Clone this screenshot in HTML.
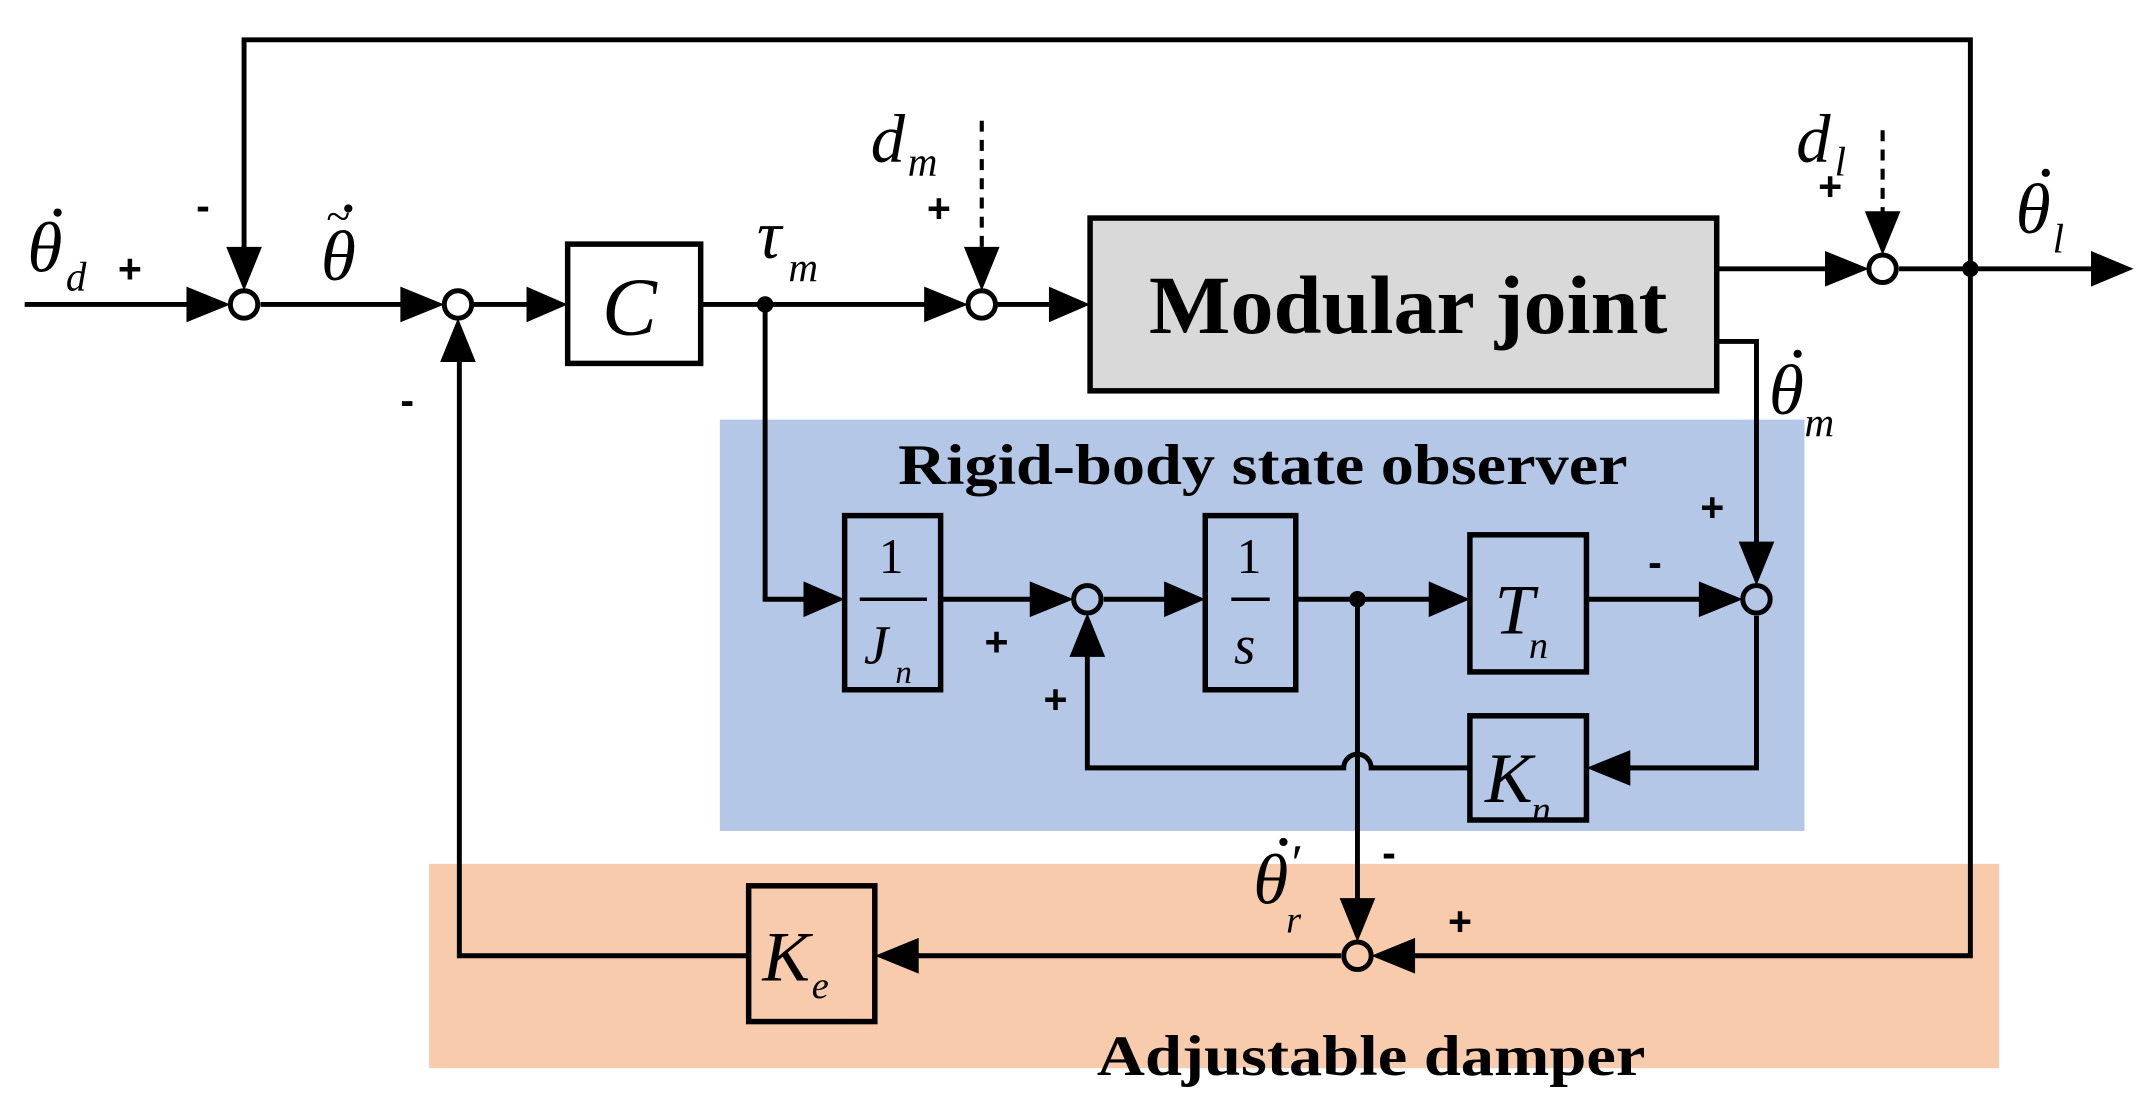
<!DOCTYPE html>
<html><head><meta charset="utf-8"><style>
html,body{margin:0;padding:0;background:#fff;}
svg{display:block;}
.m{font-family:"Liberation Serif",serif;font-style:italic;}
.b{font-family:"Liberation Serif",serif;font-weight:bold;}
.s{font-family:"Liberation Sans",sans-serif;font-weight:bold;}
</style></head><body>
<svg width="2150" height="1108" viewBox="0 0 1568 808" xmlns="http://www.w3.org/2000/svg">
<rect x="525" y="306" width="791" height="300" fill="#b4c7e7"/>
<rect x="313" y="630" width="1145" height="149" fill="#f8cbad"/>
<g stroke="#000" stroke-width="3.6" fill="none">
<polyline points="178,190 178,29 1437,29 1437,697 1020,697"/>
<line x1="18" y1="222" x2="150" y2="222"/>
<line x1="190" y1="222" x2="305" y2="222"/>
<line x1="345" y1="222" x2="388" y2="222"/>
<line x1="511" y1="222" x2="686" y2="222"/>
<line x1="726" y1="222" x2="768" y2="222"/>
<line x1="1252" y1="196" x2="1345" y2="196"/>
<line x1="1385" y1="196" x2="1528" y2="196"/>
<polyline points="1252,249 1281,249 1281,408"/>
<polyline points="558,222 558,437 590,437"/>
<line x1="686" y1="437" x2="765" y2="437"/>
<line x1="805" y1="437" x2="852" y2="437"/>
<line x1="945" y1="437" x2="1045" y2="437"/>
<line x1="1157" y1="437" x2="1255" y2="437"/>
<polyline points="1281,449 1281,560 1185,560"/>
<path d="M1072,560 L1000,560 A10,10 0 0 0 980,560 L793,560 L793,478"/>
<line x1="990" y1="437" x2="990" y2="668"/>
<line x1="978" y1="697" x2="666" y2="697"/>
<polyline points="546,697 335,697 335,262"/>
</g>
<g stroke="#000" stroke-width="3" fill="none" stroke-dasharray="8,6">
<line x1="716" y1="88" x2="716" y2="180"/>
<line x1="1373" y1="95" x2="1373" y2="155"/>
</g>
<g stroke="#000" stroke-width="4">
<rect x="795" y="159" width="457" height="126" fill="#d9d9d9"/>
<rect x="414" y="178" width="97" height="87" fill="#fff"/>
<rect x="616" y="376" width="70" height="127" fill="none"/>
<rect x="879" y="376" width="66" height="127" fill="none"/>
<rect x="1072" y="390" width="85" height="100" fill="none"/>
<rect x="1072" y="522" width="85" height="76" fill="none"/>
<rect x="546" y="646" width="92" height="99" fill="none"/>
</g>
<g stroke="#000" stroke-width="3.6" fill="#fff">
<circle cx="178" cy="222" r="10"/>
<circle cx="334" cy="222" r="10"/>
<circle cx="716" cy="222" r="10"/>
<circle cx="1373" cy="196" r="10"/>
<circle cx="793" cy="437" r="10" fill="none"/>
<circle cx="1281" cy="437" r="10" fill="none"/>
<circle cx="990" cy="697" r="10" fill="none"/>
</g>
<g fill="#000">
<circle cx="558" cy="222" r="6"/>
<circle cx="1437" cy="196" r="6"/>
<circle cx="990" cy="437" r="6"/>
<polygon points="136,209 168,222 136,235"/>
<polygon points="292,209 324,222 292,235"/>
<polygon points="384,209 414,222 384,235"/>
<polygon points="674,209 706,222 674,235"/>
<polygon points="765,209 795,222 765,235"/>
<polygon points="1331,183 1363,196 1331,209"/>
<polygon points="1525,183 1556,196 1525,209"/>
<polygon points="586,424 616,437 586,450"/>
<polygon points="751,424 783,437 751,450"/>
<polygon points="849,424 879,437 849,450"/>
<polygon points="1042,424 1072,437 1042,450"/>
<polygon points="1239,424 1271,437 1239,450"/>
<polygon points="165,180 178,212 191,180"/>
<polygon points="703,180 716,212 729,180"/>
<polygon points="1360,154 1373,186 1386,154"/>
<polygon points="1268,395 1281,427 1294,395"/>
<polygon points="977,655 990,687 1003,655"/>
<polygon points="321,264 334,232 347,264"/>
<polygon points="780,479 793,447 806,479"/>
<polygon points="1189,547 1157,560 1189,573"/>
<polygon points="1032,684 1000,697 1032,710"/>
<polygon points="670,684 638,697 670,710"/>
</g>
<g class="m" fill="#000">
<text x="20" y="198" font-size="52">θ</text><circle cx="42" cy="155" r="3"/>
<text x="48" y="212" font-size="30">d</text>
<text x="234" y="204" font-size="52">θ</text><text x="238" y="168" font-size="32" font-style="normal">~</text><circle cx="254" cy="152" r="3"/>
<text x="439" y="244" font-size="60">C</text>
<text x="552" y="188" font-size="50">τ</text><text x="575" y="205" font-size="30">m</text>
<text x="635" y="118" font-size="50">d</text><text x="662" y="128" font-size="30">m</text>
<text x="1310" y="118" font-size="50">d</text><text x="1338" y="128" font-size="30">l</text>
<text x="1470" y="170" font-size="52">θ</text><circle cx="1492" cy="126" r="3"/>
<text x="1497" y="184" font-size="30">l</text>
<text x="1290" y="302" font-size="52">θ</text><circle cx="1311" cy="258" r="3"/>
<text x="1316" y="318" font-size="30">m</text>
<text x="641" y="418" font-size="36" font-style="normal">1</text>
<text x="630" y="484" font-size="40">J</text><text x="653" y="498" font-size="24">n</text>
<text x="902" y="418" font-size="36" font-style="normal">1</text>
<text x="900" y="484" font-size="40">s</text>
<text x="1090" y="462" font-size="52">T</text><text x="1115" y="480" font-size="28">n</text>
<text x="1083" y="585" font-size="52">K</text><text x="1117" y="600" font-size="28">n</text>
<text x="556" y="715" font-size="52">K</text><text x="592" y="728" font-size="28">e</text>
<text x="914" y="659" font-size="52">θ</text><circle cx="936" cy="614" r="3"/>
<text x="942" y="642" font-size="38" font-style="normal">′</text>
<text x="938" y="680" font-size="28">r</text>
</g>
<g stroke="#000" stroke-width="2.5">
<line x1="627" y1="437" x2="676" y2="437"/>
<line x1="898" y1="437" x2="926" y2="437"/>
</g>
<g class="s" fill="#000" font-size="30">
<text x="86" y="206">+</text>
<text x="143" y="160">-</text>
<text x="292" y="302">-</text>
<text x="676" y="162">+</text>
<text x="1326" y="146">+</text>
<text x="1240" y="380">+</text>
<text x="1202" y="420">-</text>
<text x="718" y="478">+</text>
<text x="761" y="520">+</text>
<text x="1008" y="632">-</text>
<text x="1056" y="682">+</text>
</g>
<text class="b" x="838" y="243" font-size="60" textLength="378" lengthAdjust="spacingAndGlyphs">Modular joint</text>
<text class="b" x="655" y="353" font-size="42" textLength="532" lengthAdjust="spacingAndGlyphs">Rigid-body state observer</text>
<text class="b" x="800" y="784" font-size="42" textLength="400" lengthAdjust="spacingAndGlyphs">Adjustable damper</text>
</svg>
</body></html>
